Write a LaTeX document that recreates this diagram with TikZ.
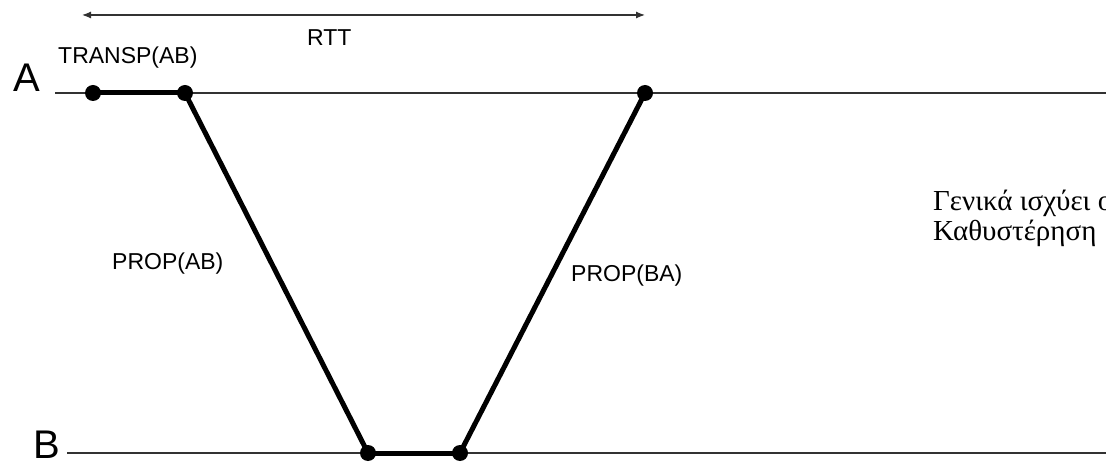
\documentclass[tikz,border=0pt]{standalone}
\usepackage{fontspec}
\setmainfont{Liberation Serif}
\newfontfamily\arialfont{Liberation Sans}
\usepackage{xcolor}
\usepackage{tikz}
\usetikzlibrary{arrows.meta}
\definecolor{axisgray}{RGB}{50,50,50}

\begin{document}
\begin{tikzpicture}[x=1pt,y=-1pt,
    timeline/.style={draw=axisgray,line width=1.1pt},
    pathline/.style={draw=black,line width=5pt},
    evdot/.style={circle,fill=black,inner sep=0pt,minimum size=16pt},
    smalllbl/.style={font=\arialfont\fontsize{23}{27}\selectfont,inner sep=0pt,anchor=base west},
    biglbl/.style={font=\arialfont\fontsize{40}{44}\selectfont,inner sep=0pt,anchor=base west}
  ]
    \useasboundingbox (0,0) rectangle (1106,462);
    \clip (0,0) rectangle (1106,462);

    % time axes of the two hosts
    \coordinate (A0) at (55,93);
    \coordinate (A1) at (1106,93);
    \coordinate (B0) at (67,453);
    \coordinate (B1) at (1106,453);
    \draw[timeline] (A0) -- (A1);
    \draw[timeline] (B0) -- (B1);
    \node[biglbl] (labA) at (13,92) {A};
    \node[biglbl] (labB) at (33,458) {B};

    % events
    \node[evdot] (sendstart) at (93,93) {};
    \node[evdot] (sendend) at (185,93) {};
    \node[evdot] (arrstart) at (368,453) {};
    \node[evdot] (arrend) at (460,453) {};
    \node[evdot] (ackarr) at (645,93) {};

    \draw[pathline] (sendstart.center) -- (sendend.center);
    \draw[pathline] (sendend.center) -- (arrstart.center);
    \draw[pathline] (arrstart.center) -- (arrend.center);
    \draw[pathline] (arrend.center) -- (ackarr.center);

    % round trip
    \coordinate (rttl) at (82,15);
    \coordinate (rttr) at (645,15);
    \draw[axisgray,line width=1.2pt,{Latex[length=9pt,width=7pt]}-{Latex[length=9pt,width=7pt]}] (rttl) -- (rttr);

    \node[smalllbl] (rtt) at (307,46) {RTT};
    \node[smalllbl] (transp) at (58,64) {TRANSP(AB)};
    \node[smalllbl] (propab) at (112,270) {PROP(AB)};
    \node[smalllbl] (propba) at (571,282) {PROP(BA)};

    \node[font=\fontsize{29}{30}\selectfont,inner sep=0pt,anchor=base west,align=left] (note) at (933,241)
      {Γενικά ισχύει ο\\Καθυστέρηση};
  \end{tikzpicture}
\end{document}
